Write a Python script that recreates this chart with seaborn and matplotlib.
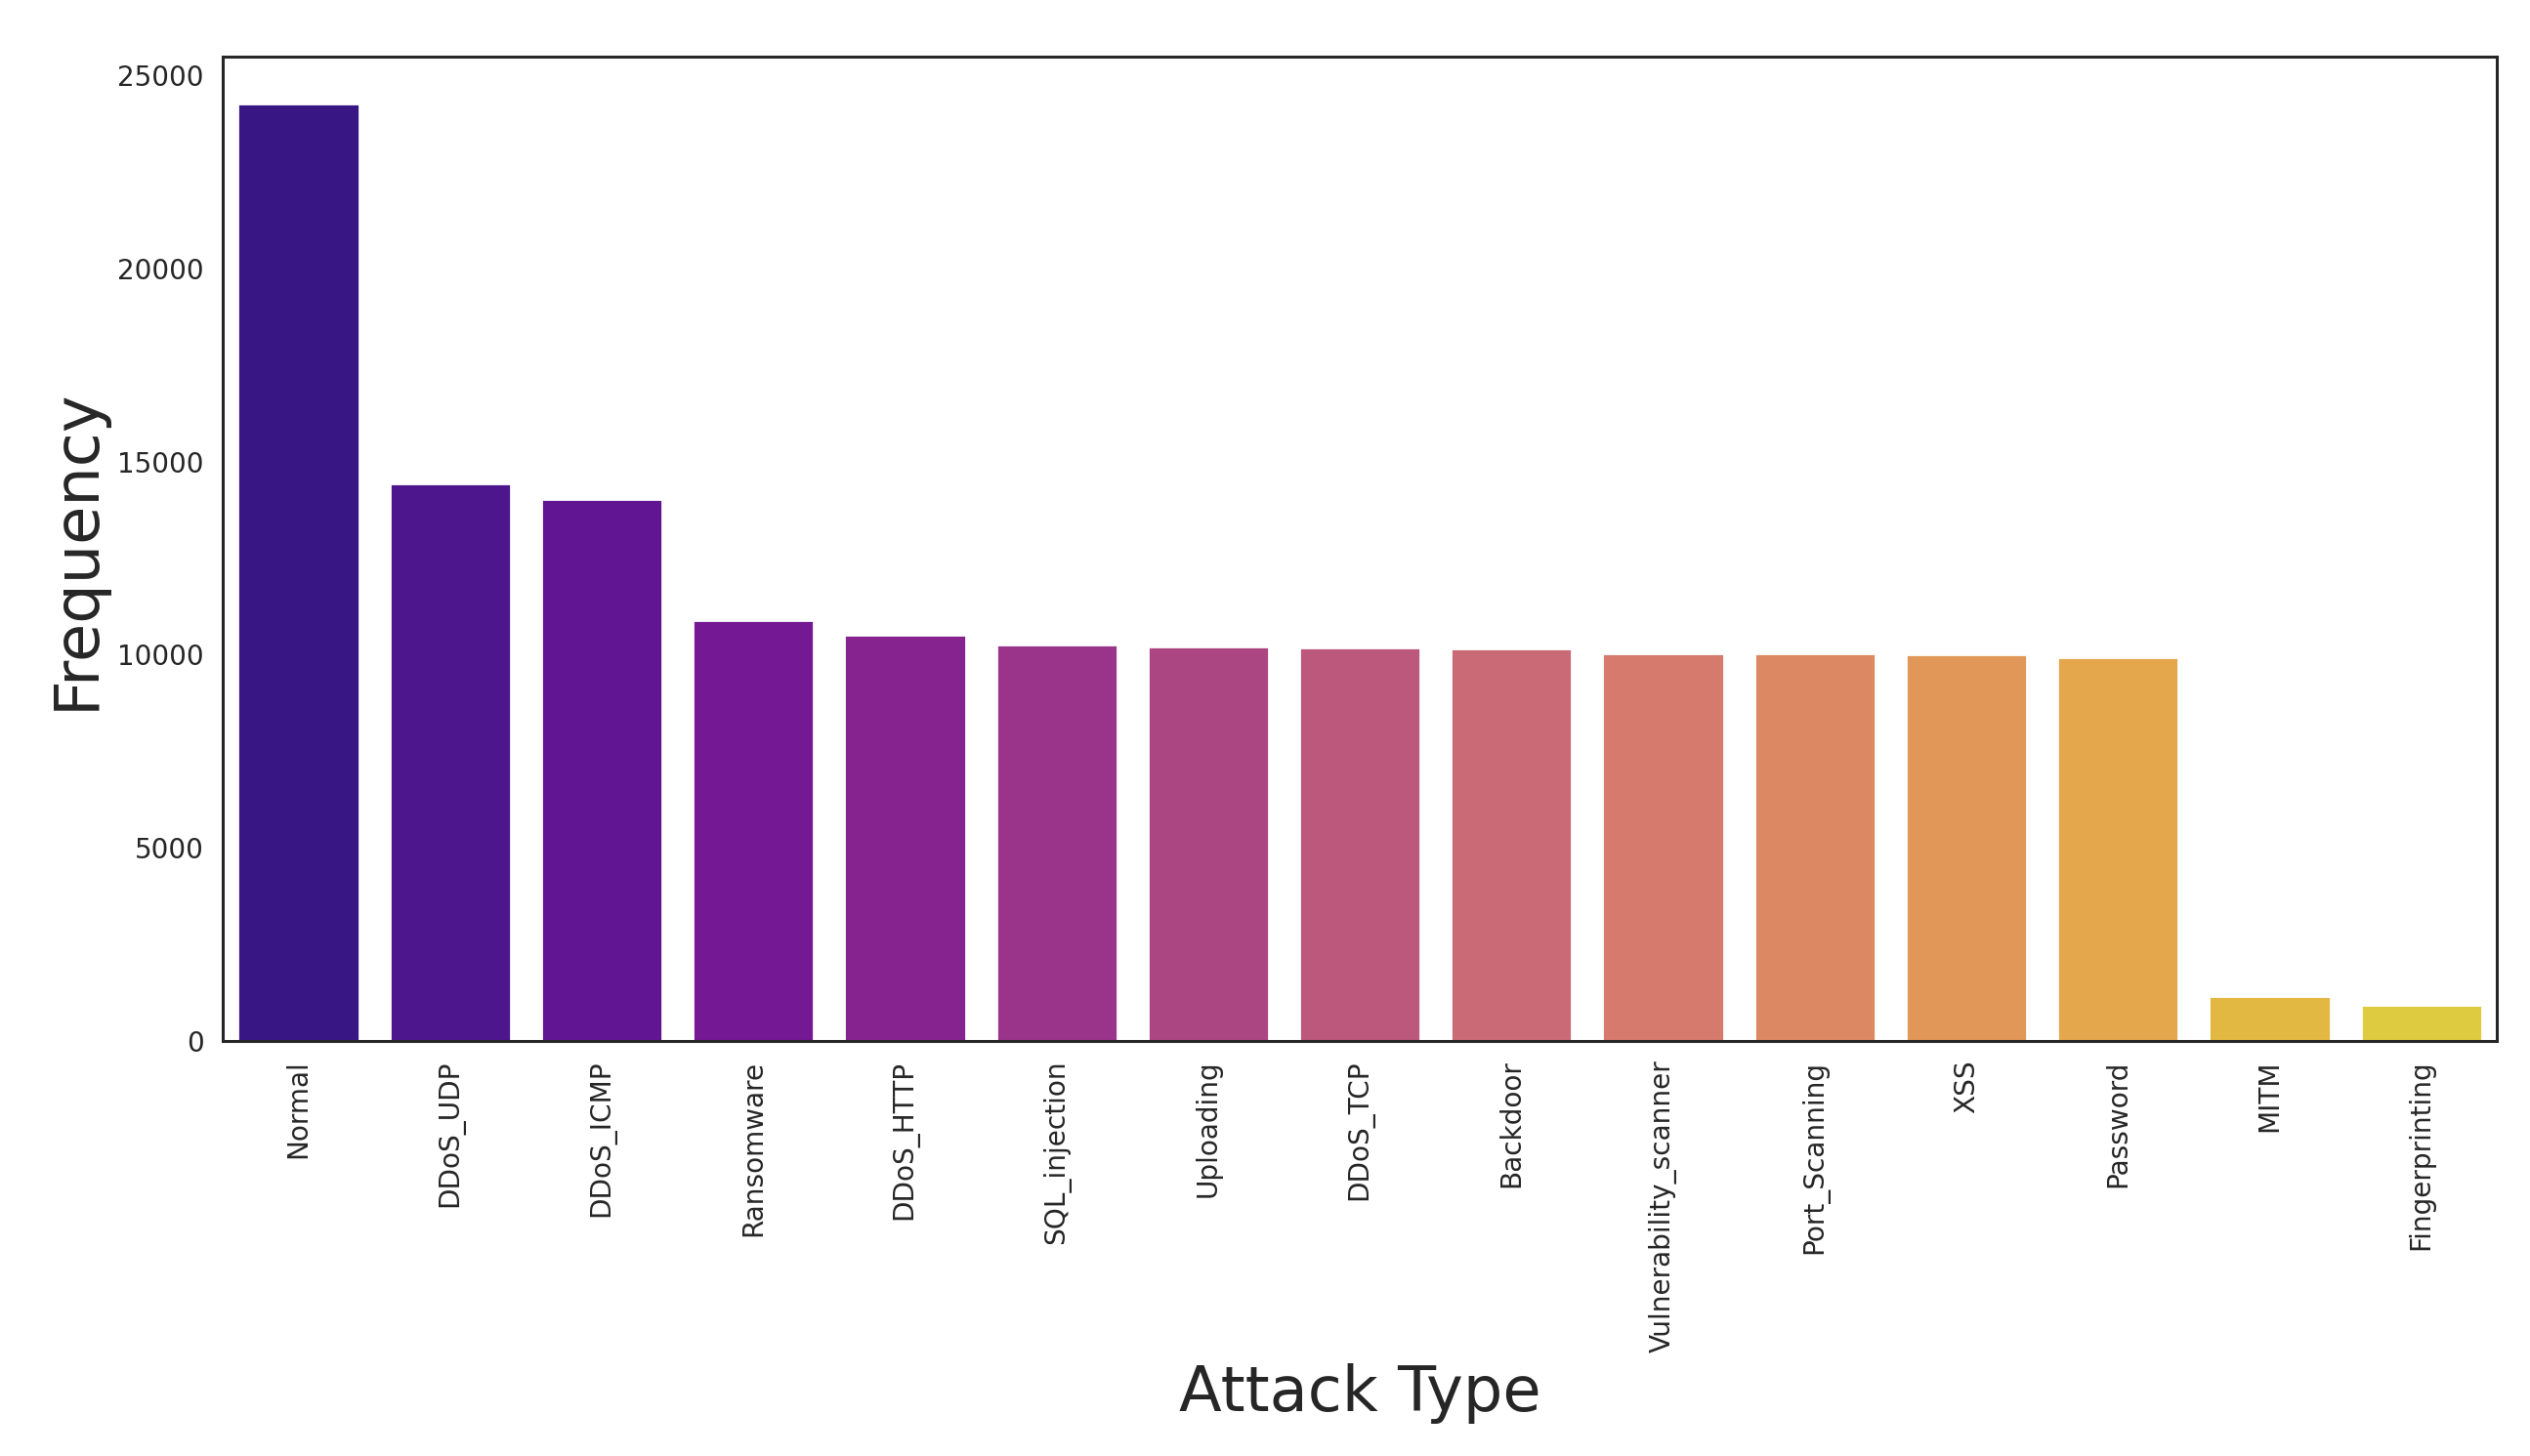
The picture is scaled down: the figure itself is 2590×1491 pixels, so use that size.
import pandas as pd
import seaborn as sns
import matplotlib
matplotlib.use("Agg")
import matplotlib.pyplot as plt

# Attack type counts
attack_types = ["Normal", "DDoS_UDP", "DDoS_ICMP", "Ransomware", "DDoS_HTTP",
                "SQL_injection", "Uploading", "DDoS_TCP", "Backdoor",
                "Vulnerability_scanner", "Port_Scanning", "XSS", "Password",
                "MITM", "Fingerprinting"]
frequencies = [24265, 14438, 14032, 10892, 10512, 10258, 10208, 10200, 10157,
               10030, 10028, 10005, 9929, 1165, 937]

df = pd.DataFrame({"Attack Type": attack_types, "Frequency": frequencies})

sns.set_style("white")
fig, ax = plt.subplots(figsize=(12.95, 7.455), dpi=200)
sns.barplot(data=df, x="Attack Type", y="Frequency", hue="Attack Type",
            palette="plasma", legend=False, ax=ax)

ax.set_xlabel("Attack Type", fontsize=23)
ax.set_ylabel("Frequency", fontsize=23)
ax.tick_params(axis="x", labelrotation=90, labelsize=10.1)
ax.tick_params(axis="y", labelsize=10)
for s in ax.spines.values():
    s.set_color("#262626")
    s.set_linewidth(1.1)

fig.subplots_adjust(left=0.088, right=0.987, top=0.961, bottom=0.285)
fig.savefig("out.png", dpi=200)
